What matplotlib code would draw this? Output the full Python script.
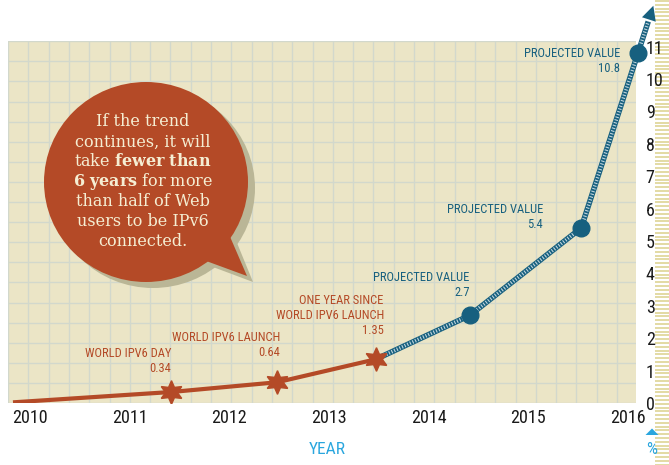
import matplotlib
matplotlib.use("Agg")
import matplotlib.pyplot as plt
import matplotlib.patches as mpatches
import matplotlib.transforms as mtrans
import numpy as np

plt.rcParams['font.family'] = ['Roboto Condensed', 'DejaVu Sans']
plt.rcParams['mathtext.fontset'] = 'dejavuserif'

# data
years = [2010, 2011, 2012, 2013, 2014, 2015, 2016]
pct_ticks = list(range(0, 12))
actual_x = [2009.83, 2011.42, 2012.48, 2013.47]
actual_y = [0.02, 0.34, 0.64, 1.35]
actual_labels = ["WORLD IPV6 DAY\n0.34", "WORLD IPV6 LAUNCH\n0.64",
                 "ONE YEAR SINCE\nWORLD IPV6 LAUNCH\n1.35"]
proj_x = [2013.47, 2014.41, 2015.53, 2016.10]
proj_y = [1.35, 2.7, 5.4, 10.8]
proj_labels = ["PROJECTED VALUE\n2.7", "PROJECTED VALUE\n5.4", "PROJECTED VALUE\n10.8"]
bubble_lines = ["If the trend",
                "continues, it will",
                r"take $\mathbf{fewer\ than}$",
                r"$\mathbf{6\ years}$ for more",
                "than half of Web",
                "users to be IPv6",
                "connected."]

RED = '#b44a27'
BLUE = '#17607f'
LIGHTBLUE = '#2aa6de'
BEIGE = '#ebe5c6'
GRID = '#d2d8cc'

W, H = 669, 465
fig = plt.figure(figsize=(W / 100, H / 100), dpi=100)
# pixel coordinates, origin top left
pix = mtrans.Affine2D().scale(1 / 100, -1 / 100).translate(0, H / 100) + fig.dpi_scale_trans

ax = fig.add_axes([8 / W, 62 / H, 628 / W, 362 / H])
ax.set_facecolor(BEIGE)
ax.set_xlim(2009.78, 2016.08)
ax.set_ylim(0, 11.17)
for s in ax.spines.values():
    s.set_visible(False)

# graph paper
for gx in np.arange(0, 1, 20.3 / 628):
    ax.plot([gx, gx], [0, 1], transform=ax.transAxes, color=GRID, lw=1, zorder=1)
for gy in np.arange(0, 1, 20.1 / 362):
    ax.plot([0, 1], [gy, gy], transform=ax.transAxes, color=GRID, lw=1, zorder=1)

ax.set_xticks(years)
ax.set_xticklabels([str(y) for y in years])
ax.set_yticks(pct_ticks)
ax.yaxis.tick_right()
ax.tick_params(axis='x', length=0, pad=4, labelsize=13, colors='#1a1a1a')
ax.tick_params(axis='y', length=0, pad=7, labelsize=13, colors='#1a1a1a')

# measured part
ax.plot(actual_x, actual_y, color=RED, lw=3, solid_capstyle='butt', zorder=4)
ax.plot(actual_x[1:], actual_y[1:], ls='none', marker=(6, 1, 0), ms=17,
        color=RED, zorder=5)

# projected part, extended a bit past the last point with an arrow
f = 0.27
tip = (proj_x[-1] + f * (proj_x[-1] - proj_x[-2]), proj_y[-1] + f * (proj_y[-1] - proj_y[-2]))
neck = (proj_x[-1] + 0.18 * (proj_x[-1] - proj_x[-2]), proj_y[-1] + 0.18 * (proj_y[-1] - proj_y[-2]))
px = proj_x + [neck[0]]
py = proj_y + [neck[1]]
ax.plot(px, py, color=BLUE, lw=4, zorder=4, clip_on=False, solid_capstyle='butt')
ax.plot(px, py, color='#c3d6de', lw=2.6, dashes=(0.3, 0.5), zorder=4, clip_on=False)
ax.annotate('', xy=tip, xytext=neck, annotation_clip=False,
            arrowprops=dict(arrowstyle='-|>', color=BLUE, lw=0, mutation_scale=26,
                            shrinkA=0, shrinkB=0), zorder=4)
ax.plot(proj_x[1:], proj_y[1:], ls='none', marker='o', ms=12, color=BLUE,
        zorder=6, clip_on=False)

red_off = [(0, 17), (3, 23), (8, 22)]
for x, y, t, o in zip(actual_x[1:], actual_y[1:], actual_labels, red_off):
    ax.annotate(t, (x, y), xytext=o, textcoords='offset pixels', ha='right',
                va='bottom', color=RED, fontsize=9, linespacing=1.2, zorder=7,
                annotation_clip=False)
blue_off = [(0, 16), (-38, -3), (-18, -22)]
for x, y, t, o in zip(proj_x[1:], proj_y[1:], proj_labels, blue_off):
    ax.annotate(t, (x, y), xytext=o, textcoords='offset pixels', ha='right',
                va='bottom', color=BLUE, fontsize=9, linespacing=1.2, zorder=7,
                annotation_clip=False)

# speech bubble
shadow = '#bab696'
bub = '#b44a27'
fig.add_artist(mpatches.Ellipse((153, 188), 204, 200, transform=pix, color=shadow, lw=0))
fig.add_artist(mpatches.Polygon([(205, 264), (235, 238), (253, 282)], transform=pix,
                                color=shadow, lw=0))
fig.add_artist(mpatches.Ellipse((146, 182), 204, 200, transform=pix, color=bub, lw=0))
fig.add_artist(mpatches.Polygon([(198, 258), (228, 232), (247, 276)], transform=pix,
                                color=bub, lw=0))
for i, line in enumerate(bubble_lines):
    fig.text(143, 122 + i * 20, line, transform=pix, ha='center', va='center',
             color='#f5eed3', fontsize=11.5, family='DejaVu Serif')

# ruler strip on the right
for ry in np.arange(0, H, 3.8):
    fig.add_artist(mpatches.Rectangle((655, ry), 14, 2, transform=pix,
                                      color='#e3dba6', lw=0, zorder=-1))

fig.text(327, 449, 'YEAR', transform=pix, ha='center', va='center',
         color=LIGHTBLUE, fontsize=12.5)
fig.text(652, 450, '%', transform=pix, ha='center', va='center',
         color=LIGHTBLUE, fontsize=12.5)
fig.add_artist(mpatches.Polygon([(645.5, 435), (658.5, 435), (652, 428.5)], transform=pix,
                                color=LIGHTBLUE, lw=0))

fig.savefig('out.png', dpi=100)
